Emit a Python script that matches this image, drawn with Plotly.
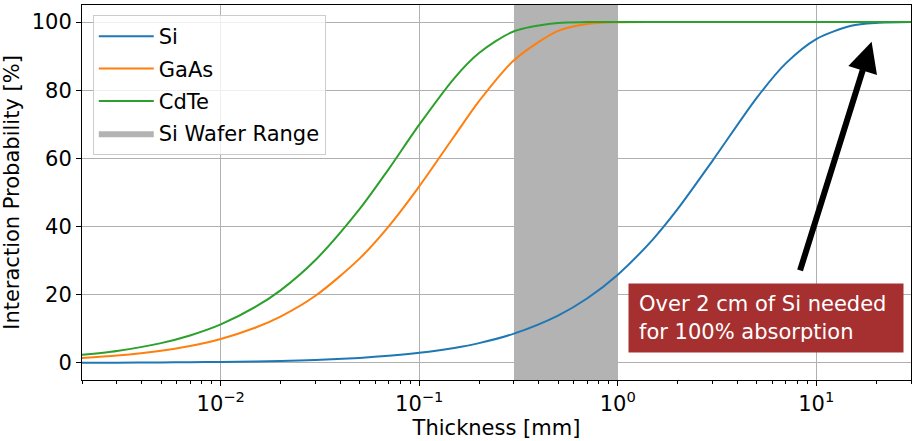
import numpy as np
import plotly.graph_objects as go

# Detector thickness in mm
thickness = [0.002, 0.003, 0.005, 0.007, 0.01, 0.015, 0.02, 0.03, 0.05, 0.07,
             0.1, 0.15, 0.2, 0.3, 0.5, 0.7, 1.0, 1.5, 2.0, 3.0, 5.0, 7.0,
             10.0, 15.0, 20.0, 30.0]

# Interaction probability [%] per material
si = [0.06, 0.09, 0.15, 0.21, 0.30, 0.45, 0.60, 0.90, 1.49, 2.08,
      2.96, 4.40, 5.82, 8.61, 13.9, 18.9, 25.9, 36.2, 45.1, 59.3, 77.7, 87.8,
      95.0, 98.9, 99.75, 99.99]
gaas = [1.45, 2.17, 3.58, 4.98, 7.04, 10.4, 13.6, 19.7, 30.6, 40.0,
        51.8, 66.5, 76.8, 88.8, 97.4, 99.4, 99.93, 100.0, 100.0, 100.0, 100.0, 100.0,
        100.0, 100.0, 100.0, 100.0]
cdte = [2.37, 3.54, 5.82, 8.06, 11.3, 16.5, 21.3, 30.2, 45.1, 56.8,
        69.9, 83.5, 90.9, 97.3, 99.75, 99.98, 100.0, 100.0, 100.0, 100.0, 100.0, 100.0,
        100.0, 100.0, 100.0, 100.0]

# Typical silicon wafer thickness range [mm]
wafer_range = [0.3, 1.0]

# decade ticks on the thickness axis
x_tickvals = [0.01, 0.1, 1, 10]
x_ticktext = ["10<sup>\u22122</sup>", "10<sup>\u22121</sup>", "10<sup>0</sup>", "10<sup>1</sup>"]
y_tickvals = [0, 20, 40, 60, 80, 100]

FONT = "DejaVu Sans"
FS = 21
Y_MIN, Y_MAX = -5, 105

fig = go.Figure()

# shaded wafer band (drawn first so the curves sit on top)
fig.add_trace(go.Scatter(
    x=[wafer_range[0], wafer_range[1], wafer_range[1], wafer_range[0], wafer_range[0]],
    y=[Y_MIN, Y_MIN, Y_MAX, Y_MAX, Y_MIN],
    fill="toself", fillcolor="#b3b3b3", line=dict(width=0),
    mode="lines", name="Si Wafer Range", legendrank=4, legendgroup="g4",
    hoverinfo="skip",
))

for name, vals, color, rank in [("Si", si, "#1f77b4", 1),
                                ("GaAs", gaas, "#ff7f0e", 2),
                                ("CdTe", cdte, "#2ca02c", 3)]:
    fig.add_trace(go.Scatter(
        x=thickness, y=vals, mode="lines", name=name, legendrank=rank,
        legendgroup=f"g{rank}",
        line=dict(color=color, width=2, shape="spline", smoothing=0.8),
    ))

# callout box
fig.add_annotation(
    x=0.745, y=13.3, xref="x", yref="y",
    text="Over 2 cm of Si needed<br>for 100% absorption",
    showarrow=False, align="left", xanchor="center", yanchor="middle",
    font=dict(family=FONT, size=FS, color="white"),
    bgcolor="#a63030", borderpad=10, width=254, height=48,
)

# arrow pointing at the Si saturation
fig.add_annotation(
    x=np.log10(19.0), y=94.2, xref="x", yref="y",
    ax=np.log10(8.24), ay=26.7, axref="x", ayref="y",
    text="", showarrow=True, arrowhead=2, arrowsize=1.0,
    arrowwidth=6, arrowcolor="black", standoff=0,
)

fig.update_xaxes(
    type="log", range=[np.log10(0.002), np.log10(30)],
    tickvals=x_tickvals, ticktext=x_ticktext,
    showgrid=True, gridcolor="#b0b0b0", gridwidth=1,
    showline=True, linecolor="black", linewidth=1, mirror=True,
    ticks="outside", ticklen=5, tickcolor="black",
    minor=dict(ticks="outside", ticklen=3, tickcolor="black", showgrid=False,
               tickvals=[m * 10.0 ** e for e in range(-3, 2) for m in range(2, 10)]),
    tickfont=dict(family=FONT, size=FS, color="black"),
    title=dict(text="Thickness [mm]", font=dict(family=FONT, size=FS, color="black"),
               standoff=3),
)
fig.update_yaxes(
    range=[Y_MIN, Y_MAX], tickvals=y_tickvals, zeroline=False,
    showgrid=True, gridcolor="#b0b0b0", gridwidth=1,
    showline=True, linecolor="black", linewidth=1, mirror=True,
    ticks="outside", ticklen=5, tickcolor="black",
    tickfont=dict(family=FONT, size=FS, color="black"),
    title=dict(text="Interaction Probability [%]",
               font=dict(family=FONT, size=FS, color="black"), standoff=6),
)

fig.update_layout(
    width=912, height=441,
    margin=dict(l=82, r=1, t=5, b=61),
    plot_bgcolor="white", paper_bgcolor="white",
    font=dict(family=FONT, color="black"),
    legend=dict(
        x=0.013, y=0.973, xanchor="left", yanchor="top",
        bgcolor="rgba(255,255,255,0.8)", bordercolor="#cccccc", borderwidth=1,
        font=dict(family=FONT, size=FS, color="black"),
        tracegroupgap=2, itemwidth=55,
    ),
    showlegend=True,
)

fig.write_html("out.html")
